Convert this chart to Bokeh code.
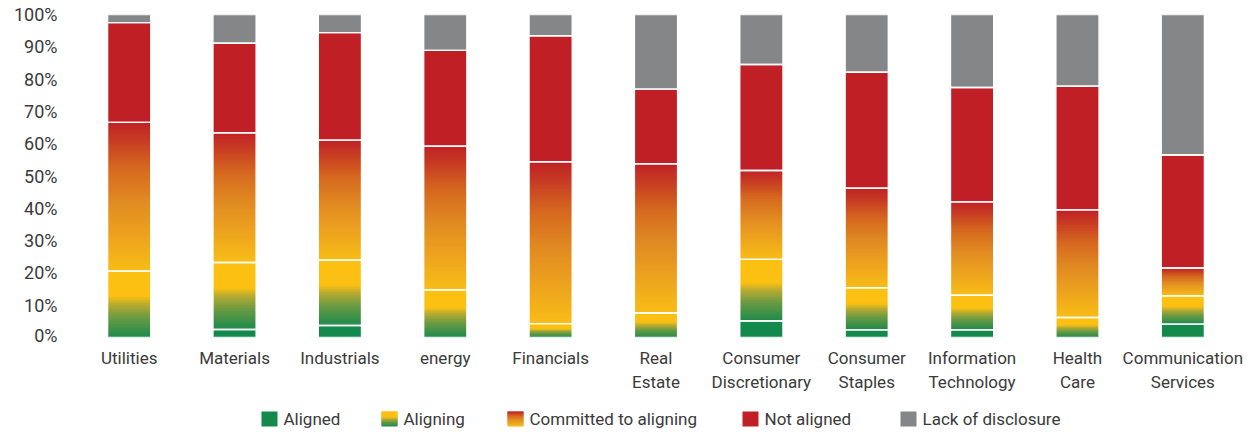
from bokeh.plotting import figure
from bokeh.models import FactorRange, Range1d, FixedTicker, PrintfTickFormatter, ColumnDataSource
from bokeh.layouts import column
from bokeh.embed import file_html
from bokeh.resources import INLINE
from bokeh.core.properties import value

# ---- data (% of companies per sector) ----
sectors = ["Utilities", "Materials", "Industrials", "energy", "Financials",
           "Real Estate", "Consumer Discretionary", "Consumer Staples",
           "Information Technology", "Health Care", "Communication Services"]
label_line1 = ["Utilities", "Materials", "Industrials", "energy", "Financials",
               "Real", "Consumer", "Consumer", "Information", "Health", "Communication"]
label_line2 = ["", "", "", "", "",
               "Estate", "Discretionary", "Staples", "Technology", "Care", "Services"]

aligned     = [0.0, 2.5, 3.7, 0.0, 0.0, 0.0, 5.1, 2.4, 2.4, 0.0, 4.1]
aligning    = [20.5, 20.7, 20.2, 14.8, 4.3, 7.6, 19.1, 13.0, 10.7, 6.2, 8.8]
committed   = [46.1, 40.2, 37.2, 44.4, 50.1, 46.2, 27.5, 30.8, 28.9, 33.3, 8.6]
not_aligned = [30.9, 27.7, 33.3, 29.7, 39.0, 23.1, 32.8, 35.9, 35.4, 38.3, 35.0]
lack        = [2.5, 8.9, 5.6, 11.1, 6.6, 23.1, 15.5, 17.9, 22.6, 22.2, 43.5]

series_names = ["Aligned", "Aligning", "Committed to aligning", "Not aligned", "Lack of disclosure"]
series_values = [aligned, aligning, committed, not_aligned, lack]

# ---- styling / layout ----
GREEN = "#138a4c"
YELLOW = "#fbc012"
RED = "#c01f26"
GREY = "#858688"
TEXT = "#3a3a3a"
FONT = "Roboto"

WIDTH = 1255
LEFT, RIGHT, TOP = 61, 5, 14
FRAME_H = 323
FRAME_W = WIDTH - LEFT - RIGHT
PX_PER_UNIT = FRAME_H / 100     # px per percentage point
SIDE_PAD_PX = 15                # empty space either side of the first/last category slot
PX_PER_FACTOR = (FRAME_W - 2 * SIDE_PAD_PX) / len(sectors)

# colour stops (fraction from bottom, hex) for the gradient-filled series
aligning_stops = [(0.0, "#1c8a4c"), (0.3, "#6a9a43"), (0.5, "#b8ab30"), (0.62, YELLOW), (1.0, YELLOW)]
committed_stops = [(0.0, "#f8bd16"), (0.25, "#eca21f"), (0.47, "#e08a22"),
                   (0.7, "#d5671f"), (0.88, "#c73b23"), (1.0, "#c02226")]
fills = [GREEN, aligning_stops, committed_stops, RED, GREY]


def hex_rgb(h):
    h = h.lstrip("#")
    return tuple(int(h[i:i + 2], 16) for i in (0, 2, 4))


def gradient_colour(stops, f):
    for (f0, c0), (f1, c1) in zip(stops[:-1], stops[1:]):
        if f <= f1:
            t = 0.0 if f1 == f0 else (f - f0) / (f1 - f0)
            a, b = hex_rgb(c0), hex_rgb(c1)
            r = [round(a[k] + (b[k] - a[k]) * t) for k in range(3)]
            return "#%02x%02x%02x" % tuple(r)
    return stops[-1][1]


def gradient_slices(lo, hi, stops, n):
    """Split [lo, hi] into n bands, each overlapping the next one to hide seams."""
    step = (hi - lo) / n
    out = []
    for k in range(n):
        y0 = lo + step * k
        y1 = lo + step * (k + 2) if k < n - 2 else hi
        out.append((y0, y1, gradient_colour(stops, (k + 0.5) / n)))
    return out


def bare(fig):
    fig.grid.visible = False
    fig.outline_line_color = None
    fig.background_fill_color = "white"
    fig.border_fill_color = "white"


BAR_W = 0.41

# ---- bars ----
x_range = FactorRange(*sectors, range_padding=SIDE_PAD_PX / PX_PER_FACTOR,
                      range_padding_units="absolute")
p = figure(x_range=x_range, y_range=Range1d(0, 100),
           width=WIDTH, height=TOP + FRAME_H + 8,
           min_border_left=LEFT, min_border_right=RIGHT, min_border_top=TOP, min_border_bottom=8,
           output_backend="svg", toolbar_location=None)
bare(p)

solid = dict(x=[], bottom=[], top=[], color=[])
outline = dict(x=[], bottom=[], top=[])
for i, sector in enumerate(sectors):
    base = 0.0
    for s, vals in enumerate(series_values):
        v = vals[i]
        if v <= 0:
            continue
        lo, hi = base, base + v
        fill = fills[s]
        if isinstance(fill, str):
            bands = [(lo, hi, fill)]
        else:
            n = max(4, int(v * PX_PER_UNIT / 1.5))
            bands = gradient_slices(lo, hi, fill, n)
        for y0, y1, c in bands:
            solid["x"].append(sector); solid["bottom"].append(y0)
            solid["top"].append(y1); solid["color"].append(c)
        outline["x"].append(sector); outline["bottom"].append(lo); outline["top"].append(hi)
        base = hi

p.vbar(x="x", width=BAR_W, bottom="bottom", top="top", source=ColumnDataSource(solid),
       fill_color="color", line_color=None)
p.vbar(x="x", width=BAR_W, bottom="bottom", top="top", source=ColumnDataSource(outline),
       fill_alpha=0, line_color="white", line_width=1.4)

p.xaxis.visible = False
p.yaxis.ticker = FixedTicker(ticks=list(range(0, 101, 10)))
p.yaxis.formatter = PrintfTickFormatter(format="%d%%")
p.yaxis.axis_line_color = None
p.yaxis.major_tick_line_color = None
p.yaxis.minor_tick_line_color = None
p.yaxis.major_tick_out = 0
p.yaxis.major_tick_in = 0
p.yaxis.major_label_text_font = FONT
p.yaxis.major_label_text_font_size = "18px"
p.yaxis.major_label_text_color = TEXT
p.yaxis.major_label_text_baseline = "hanging"
p.yaxis.major_label_standoff = 4

# ---- sector names, sharing the bars' category scale ----
LAB_H = 50
lab = figure(width=WIDTH, height=LAB_H, x_range=x_range, y_range=Range1d(LAB_H, 0),
             y_axis_type=None, min_border_left=LEFT, min_border_right=RIGHT,
             min_border_top=0, min_border_bottom=0,
             output_backend="svg", toolbar_location=None)
bare(lab)
lab.xaxis.visible = False
for lines, ypos in ((label_line1, 12), (label_line2, 36)):
    lab.text(x=sectors, y=[ypos] * len(sectors), text=lines,
             text_font=value(FONT), text_font_size="17px", text_color=TEXT,
             text_align="center", text_baseline="middle")

# ---- legend strip with gradient swatches (x in page pixels) ----
lg = figure(width=WIDTH, height=39, x_range=Range1d(LEFT, WIDTH - RIGHT), y_range=Range1d(39, 0),
            x_axis_type=None, y_axis_type=None, min_border_left=LEFT, min_border_right=RIGHT,
            min_border_top=0, min_border_bottom=0,
            output_backend="svg", toolbar_location=None)
bare(lg)

swatch_left = [261, 381, 507, 742, 900]
SW = 16
SW_TOP, SW_BOTTOM = 16, 31
sw = dict(left=[], right=[], top=[], bottom=[], color=[])
for name, fill, x0 in zip(series_names, fills, swatch_left):
    bands = ([(SW_BOTTOM, SW_TOP, fill)] if isinstance(fill, str)
             else gradient_slices(SW_BOTTOM, SW_TOP, fill, 10))
    for yb, yt, c in bands:
        sw["left"].append(x0); sw["right"].append(x0 + SW)
        sw["bottom"].append(yb); sw["top"].append(yt); sw["color"].append(c)
lg.quad(left="left", right="right", top="top", bottom="bottom", source=ColumnDataSource(sw),
        fill_color="color", line_color=None)
lg.text(x=[x0 + SW + 6 for x0 in swatch_left], y=[23.5] * len(series_names), text=series_names,
        text_font=value(FONT), text_font_size="17px", text_color=TEXT,
        text_baseline="middle", text_align="left")

layout = column(p, lab, lg, spacing=0)
open("out.html", "w").write(file_html(layout, INLINE))
